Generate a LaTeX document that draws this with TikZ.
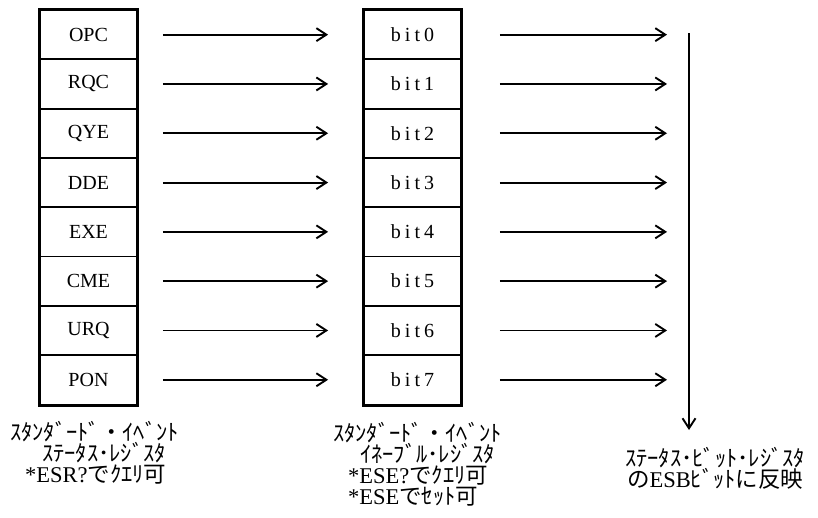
\documentclass[tikz,border=0pt]{standalone}
\usepackage{fontspec}
\setmainfont{Liberation Serif}
\newfontfamily\jp{Noto Sans CJK JP}
\usetikzlibrary{arrows.meta}

\begin{document}
\begin{tikzpicture}[x=1pt,y=-1pt]
	\tikzset{
		reg/.style={
			draw, line width=1.8pt, inner sep=0pt,
			minimum width=97pt, minimum height=49.3pt,
			font=\fontsize{20}{24}\selectfont
		},
		bitreg/.style={
			reg, font=\fontsize{20}{24}\selectfont\addfontfeatures{LetterSpace=20}
		},
		frame/.style={draw, line width=3pt},
		flow/.style={
			-{Straight Barb[length=10pt,width=13pt]},
			line width=1.9pt
		},
		note/.style={
			anchor=base west, inner sep=0pt, align=left,
			font=\fontsize{22.5}{21}\selectfont
		}
	}
	\useasboundingbox (0,0) rectangle (818,517);
	
	% ======= Standard Event Status Register =======
	\node[reg] (s0) at (88.5, 34.65) {OPC};
	\node[reg] (s1) at (88.5, 83.95) {RQC};
	\node[reg] (s2) at (88.5,133.25) {QYE};
	\node[reg] (s3) at (88.5,182.55) {DDE};
	\node[reg] (s4) at (88.5,231.85) {EXE};
	\node[reg] (s5) at (88.5,281.15) {CME};
	\node[reg] (s6) at (88.5,330.45) {URQ};
	\node[reg] (s7) at (88.5,379.75) {PON};
	\draw[frame] (s0.north west) rectangle (s7.south east);
	
	% ======= Standard Event Enable Register =======
	\node[bitreg] (e0) at (412.5, 34.65) {bit0};
	\node[bitreg] (e1) at (412.5, 83.95) {bit1};
	\node[bitreg] (e2) at (412.5,133.25) {bit2};
	\node[bitreg] (e3) at (412.5,182.55) {bit3};
	\node[bitreg] (e4) at (412.5,231.85) {bit4};
	\node[bitreg] (e5) at (412.5,281.15) {bit5};
	\node[bitreg] (e6) at (412.5,330.45) {bit6};
	\node[bitreg] (e7) at (412.5,379.75) {bit7};
	\draw[frame] (e0.north west) rectangle (e7.south east);
	
	% ======= arrows between the registers =======
	\draw[flow, shorten <=25pt, shorten >=35pt] (s0) -- (e0);
	\draw[flow, shorten <=25pt, shorten >=35pt] (s1) -- (e1);
	\draw[flow, shorten <=25pt, shorten >=35pt] (s2) -- (e2);
	\draw[flow, shorten <=25pt, shorten >=35pt] (s3) -- (e3);
	\draw[flow, shorten <=25pt, shorten >=35pt] (s4) -- (e4);
	\draw[flow, shorten <=25pt, shorten >=35pt] (s5) -- (e5);
	\draw[flow, shorten <=25pt, shorten >=35pt] (s6) -- (e6);
	\draw[flow, shorten <=25pt, shorten >=35pt] (s7) -- (e7);
	
	% ======= arrows to the summary line =======
	\coordinate (r0) at (667, 34.65);
	\coordinate (r1) at (667, 83.95);
	\coordinate (r2) at (667,133.25);
	\coordinate (r3) at (667,182.55);
	\coordinate (r4) at (667,231.85);
	\coordinate (r5) at (667,281.15);
	\coordinate (r6) at (667,330.45);
	\coordinate (r7) at (667,379.75);
	\draw[flow, shorten <=38pt] (e0) -- (r0);
	\draw[flow, shorten <=38pt] (e1) -- (r1);
	\draw[flow, shorten <=38pt] (e2) -- (r2);
	\draw[flow, shorten <=38pt] (e3) -- (r3);
	\draw[flow, shorten <=38pt] (e4) -- (r4);
	\draw[flow, shorten <=38pt] (e5) -- (r5);
	\draw[flow, shorten <=38pt] (e6) -- (r6);
	\draw[flow, shorten <=38pt] (e7) -- (r7);
	
	\coordinate (esbtop) at (689, 33);
	\coordinate (esbbot) at (689,430);
	\draw[flow] (esbtop) -- (esbbot);
	
	% ======= captions (placed at the baseline of their last line) =======
	\node[note] (esrnote) at (10,482)
		{{\jp ｽﾀﾝﾀﾞｰﾄﾞ・ｲﾍﾞﾝﾄ}\\
		 \hspace*{32pt}{\jp ｽﾃｰﾀｽ･ﾚｼﾞｽﾀ}\\
		 \hspace*{15pt}*ESR?{\jp でｸｴﾘ可}};
	\node[note] (esenote) at (333,504)
		{{\jp ｽﾀﾝﾀﾞｰﾄﾞ・ｲﾍﾞﾝﾄ}\\
		 \hspace*{27pt}{\jp ｲﾈｰﾌﾞﾙ･ﾚｼﾞｽﾀ}\\
		 \hspace*{15pt}*ESE?{\jp でｸｴﾘ可}\\
		 \hspace*{15pt}*ESE{\jp でｾｯﾄ可}};
	\node[note] (esbnote) at (625,487)
		{{\jp ｽﾃｰﾀｽ･ﾋﾞｯﾄ･ﾚｼﾞｽﾀ}\\
		 \hspace*{2pt}{\jp の}ESB{\jp ﾋﾞｯﾄに反映}};
	
\end{tikzpicture}
\end{document}
